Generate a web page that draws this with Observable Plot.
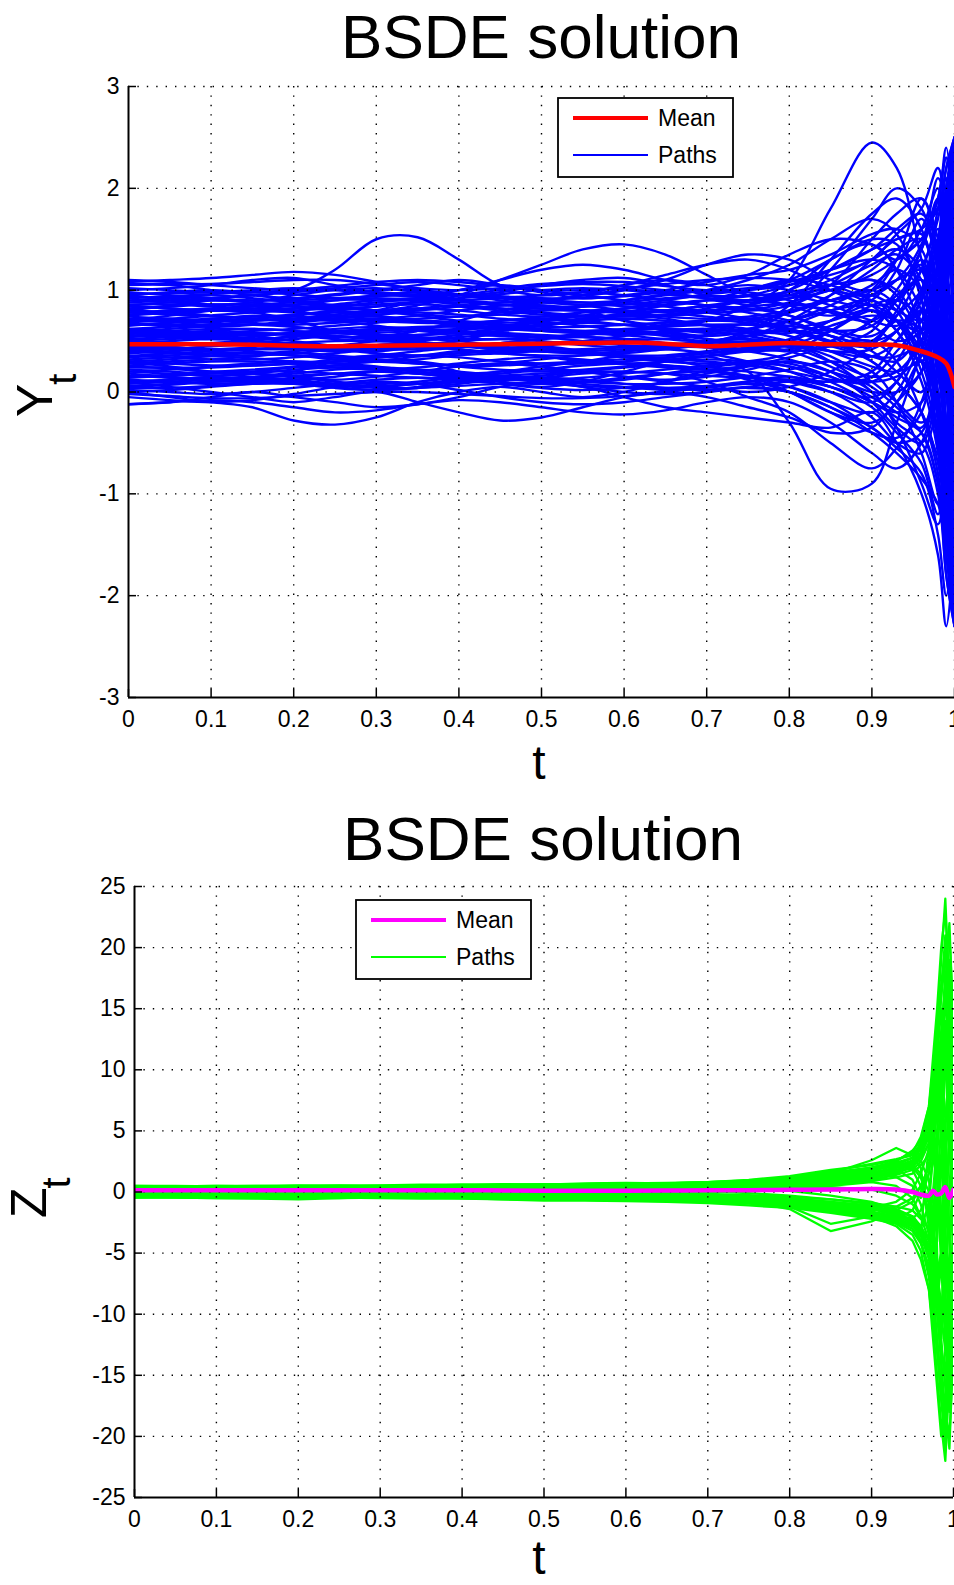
<!DOCTYPE html>
<html><head><meta charset="utf-8">
<script src="https://cdn.jsdelivr.net/npm/d3@7"></script>
<script src="https://cdn.jsdelivr.net/npm/@observablehq/plot@0.6"></script>
<style>
html,body{margin:0;padding:0;background:#fff;}
#wrap{position:relative;width:954px;height:1585px;overflow:hidden;background:#fff;}
#p1{position:absolute;left:0;top:70px;}
#p2{position:absolute;left:0;top:870px;}
#ov{position:absolute;left:0;top:0;pointer-events:none;font-family:"Liberation Sans",Arial,Helvetica,sans-serif;}
</style></head><body>
<div id="wrap"><div id="p1"></div><div id="p2"></div><svg id="ov" width="954" height="1585"></svg></div>
<script>
// ---------- tick values ----------
const X_TICKS = [0, 0.1, 0.2, 0.3, 0.4, 0.5, 0.6, 0.7, 0.8, 0.9, 1];
const Y_TICKS_TOP = [-3, -2, -1, 0, 1, 2, 3];
const Y_TICKS_BOTTOM = [-25, -20, -15, -10, -5, 0, 5, 10, 15, 20, 25];

// ---------- Y_t (top panel) ----------
const T_Y = [0, .05, .1, .15, .2, .25, .3, .35, .4, .45, .5, .55, .6, .65, .7, .75, .8, .85, .9, .93, .96, .98, .99, 1];
const Y_MEAN = [0.47,0.47,0.47,0.465,0.455,0.45,0.455,0.46,0.465,0.47,0.475,0.48,0.485,0.475,0.45,0.465,0.48,0.47,0.465,0.46,0.40,0.34,0.28,0.05];
const Y_PATHS = [
[1.08,1.1,1.12,1.15,1.18,1.15,1.08,1.0,0.95,0.98,1.05,1.1,1.12,1.05,0.95,0.9,1.0,1.2,1.4,1.5,1.6,1.8,2.2,2.5],
[0.95,0.98,1.0,0.98,1.0,1.2,1.5,1.52,1.3,1.05,1.0,0.95,0.9,0.85,0.9,1.0,1.1,1.05,0.9,0.8,0.7,0.9,1.3,1.6],
[0.8,0.85,0.9,0.95,0.9,0.85,0.8,0.85,0.95,1.1,1.25,1.4,1.45,1.35,1.15,0.95,0.85,0.9,1.0,1.1,1.2,1.0,0.6,0.2],
[0.6,0.65,0.7,0.75,0.7,0.6,0.55,0.6,0.7,0.8,0.85,0.8,0.7,0.65,0.7,0.85,1.1,1.8,2.45,2.2,1.3,0.6,0.2,-0.3],
[0.3,0.25,0.2,0.15,0.2,0.3,0.35,0.3,0.2,0.1,0.05,0.1,0.2,0.3,0.35,0.2,-0.3,-0.95,-0.9,-0.3,0.4,0.9,1.2,1.4],
[0.5,0.55,0.6,0.55,0.5,0.45,0.4,0.45,0.5,0.6,0.7,0.75,0.7,0.6,0.55,0.6,0.8,1.2,1.7,2.0,1.8,1.2,0.5,-0.5],
[0.0,-0.05,-0.1,-0.15,-0.28,-0.32,-0.25,-0.1,0.0,0.05,0.0,-0.05,0.0,0.1,0.2,0.15,0.0,-0.2,-0.3,-0.1,0.3,-0.5,-1.2,-2.0],
[0.1,0.05,0.0,-0.05,-0.1,-0.05,0.0,-0.1,-0.2,-0.28,-0.25,-0.15,-0.05,0.0,-0.05,-0.15,-0.25,-0.4,-0.35,-0.1,0.2,0.8,1.5,2.2],
[-0.12,-0.1,-0.05,0.0,-0.05,-0.1,-0.15,-0.12,-0.05,0.05,0.1,0.05,-0.05,-0.15,-0.2,-0.25,-0.3,-0.35,-0.2,-0.5,-1.0,-1.6,-2.3,-1.5],
[1.0,1.02,1.05,1.1,1.12,1.05,0.98,0.95,1.0,1.1,1.2,1.25,1.2,1.1,1.05,1.15,1.35,1.5,1.45,1.3,1.6,2.0,1.5,0.8],
[0.7,0.75,0.8,0.85,0.8,0.75,0.8,0.9,1.0,1.05,1.0,0.95,1.0,1.1,1.25,1.35,1.3,1.1,1.0,1.3,1.9,1.5,0.5,-0.5],
[0.9,0.92,0.95,0.92,0.88,0.85,0.88,0.92,0.95,0.93,0.9,0.88,0.9,0.95,1.0,1.05,1.0,0.9,0.8,0.7,0.6,0.9,1.4,2.0],
[0.85,0.82,0.8,0.82,0.85,0.9,0.95,0.98,0.95,0.9,0.85,0.8,0.78,0.8,0.85,0.9,0.95,1.1,1.3,1.4,1.2,0.4,-0.3,-1.0],
[0.75,0.78,0.8,0.78,0.72,0.7,0.72,0.75,0.8,0.85,0.88,0.85,0.8,0.75,0.78,0.85,0.95,1.0,0.85,0.6,0.3,0.8,1.6,2.3],
[0.65,0.68,0.7,0.72,0.75,0.78,0.75,0.7,0.65,0.62,0.65,0.7,0.78,0.85,0.9,0.85,0.75,0.6,0.5,0.6,0.9,1.4,1.0,0.2],
[0.55,0.58,0.6,0.62,0.6,0.55,0.52,0.55,0.6,0.65,0.68,0.65,0.6,0.55,0.5,0.55,0.65,0.8,0.9,0.7,0.2,-0.5,-1.3,-1.8],
[0.4,0.42,0.45,0.5,0.55,0.58,0.55,0.5,0.45,0.42,0.45,0.5,0.55,0.6,0.62,0.58,0.5,0.4,0.35,0.5,0.9,1.5,2.1,1.2],
[0.3,0.32,0.35,0.33,0.3,0.28,0.3,0.35,0.4,0.38,0.35,0.3,0.28,0.3,0.35,0.4,0.45,0.35,0.1,-0.1,-0.3,-0.1,0.5,1.0],
[0.2,0.22,0.25,0.28,0.3,0.28,0.25,0.2,0.18,0.2,0.25,0.3,0.35,0.32,0.25,0.2,0.15,0.1,0.2,0.5,0.8,0.3,-0.6,-1.6],
[0.1,0.12,0.15,0.18,0.15,0.1,0.08,0.1,0.15,0.2,0.22,0.2,0.15,0.1,0.05,0.0,0.05,0.2,0.45,0.7,0.6,0.0,-0.8,-0.5],
[0.0,0.02,0.05,0.08,0.1,0.08,0.05,0.08,0.12,0.15,0.12,0.08,0.05,0.02,0.05,0.1,0.15,0.05,-0.15,-0.4,-0.7,-1.2,-0.5,0.4],
[0.95,0.9,0.85,0.88,0.95,1.0,1.02,0.98,0.9,0.85,0.88,0.95,1.05,1.1,1.05,0.95,0.85,0.75,0.9,1.2,1.7,1.2,0.3,0.9],
[0.6,0.62,0.65,0.7,0.72,0.7,0.65,0.6,0.58,0.6,0.65,0.72,0.75,0.72,0.65,0.6,0.58,0.7,1.0,1.3,1.5,1.8,1.2,0.0],
[0.45,0.43,0.4,0.38,0.4,0.45,0.5,0.52,0.5,0.45,0.4,0.38,0.4,0.45,0.5,0.55,0.6,0.55,0.4,0.2,0.0,0.6,1.3,1.9],
[0.35,0.38,0.4,0.42,0.45,0.42,0.38,0.35,0.38,0.42,0.45,0.4,0.35,0.32,0.35,0.42,0.5,0.65,0.75,0.7,0.4,-0.2,-0.9,-2.1],
[0.25,0.23,0.2,0.22,0.25,0.3,0.32,0.3,0.25,0.22,0.2,0.22,0.25,0.3,0.32,0.3,0.25,0.15,0.0,0.0,0.2,0.7,1.1,1.7],
[0.15,0.17,0.2,0.18,0.15,0.12,0.15,0.2,0.25,0.28,0.25,0.2,0.15,0.12,0.15,0.22,0.3,0.2,-0.1,-0.35,-0.5,0.1,0.9,0.5],
[0.05,0.07,0.1,0.12,0.1,0.05,0.02,0.05,0.1,0.12,0.1,0.05,0.0,-0.02,0.0,0.05,0.1,0.0,-0.25,-0.5,-0.6,-0.2,-1.0,-1.9],
[0.8,0.78,0.75,0.72,0.7,0.72,0.78,0.82,0.85,0.82,0.78,0.75,0.72,0.75,0.82,0.9,0.95,0.85,0.7,0.65,0.8,1.2,1.9,2.4],
[0.7,0.72,0.75,0.78,0.8,0.82,0.8,0.75,0.7,0.68,0.7,0.75,0.82,0.88,0.85,0.78,0.7,0.55,0.5,0.8,1.3,0.6,-0.4,-1.2],
[0.5,0.48,0.45,0.48,0.52,0.55,0.52,0.48,0.45,0.48,0.52,0.58,0.6,0.58,0.52,0.45,0.4,0.45,0.6,0.9,1.1,0.7,0.0,-0.8],
[1.05,1.05,1.0,0.95,0.92,0.95,1.0,1.05,1.1,1.05,0.98,0.92,0.95,1.0,1.08,1.15,1.2,1.35,1.55,1.6,1.4,0.8,0.3,0.6],
[-0.05,-0.08,-0.1,-0.08,-0.02,0.05,0.1,0.08,0.02,-0.05,-0.1,-0.12,-0.1,-0.05,0.0,0.05,0.0,-0.15,-0.4,-0.6,-0.85,-1.1,-1.5,-0.8],
[0.88,0.9,0.92,0.95,0.98,1.0,0.98,0.95,0.9,0.88,0.9,0.95,1.0,0.98,0.92,0.88,0.92,1.05,1.25,1.35,1.1,0.5,1.2,1.8],
[0.62,0.6,0.58,0.6,0.62,0.65,0.68,0.7,0.68,0.65,0.6,0.58,0.6,0.65,0.7,0.72,0.68,0.55,0.3,0.1,-0.2,-0.6,0.2,1.1],
[0.38,0.4,0.42,0.4,0.36,0.34,0.36,0.4,0.44,0.46,0.44,0.4,0.36,0.34,0.38,0.44,0.52,0.7,0.95,1.1,1.2,1.0,0.2,-1.0],
[0.18,0.15,0.12,0.1,0.12,0.15,0.2,0.22,0.2,0.16,0.12,0.1,0.12,0.18,0.24,0.28,0.25,0.1,-0.1,-0.2,-0.1,0.4,1.4,2.4],
[0.72,0.7,0.68,0.66,0.68,0.72,0.76,0.78,0.76,0.72,0.7,0.72,0.76,0.8,0.78,0.72,0.62,0.5,0.45,0.6,1.0,1.6,0.9,-0.4],
[0.28,0.3,0.32,0.35,0.38,0.36,0.32,0.28,0.26,0.28,0.32,0.36,0.4,0.42,0.38,0.3,0.2,0.05,-0.05,0.1,0.5,-0.3,-1.4,-2.2],
[0.52,0.54,0.56,0.58,0.56,0.52,0.5,0.52,0.56,0.6,0.62,0.6,0.56,0.52,0.5,0.55,0.7,0.95,1.3,1.5,1.55,1.1,2.0,2.5],
[1.1,1.08,1.05,1.02,1.0,1.02,1.05,1.08,1.05,1.0,0.95,0.98,1.05,1.15,1.25,1.3,1.2,1.0,0.85,0.9,1.2,1.8,2.4,1.6],
[-0.12,-0.1,-0.08,-0.1,-0.15,-0.2,-0.18,-0.12,-0.08,-0.1,-0.15,-0.2,-0.22,-0.18,-0.1,-0.05,-0.1,-0.3,-0.6,-0.75,-0.5,0.2,0.6,0.1],
[0.42,0.45,0.48,0.46,0.42,0.4,0.42,0.46,0.5,0.52,0.5,0.46,0.44,0.46,0.5,0.52,0.48,0.3,0.0,-0.3,-0.5,-1.0,-1.8,-2.3],
[0.85,0.88,0.9,0.88,0.84,0.82,0.84,0.88,0.9,0.92,0.95,0.98,0.95,0.9,0.85,0.8,0.85,1.05,1.5,1.75,1.9,1.3,0.4,-0.2],
[0.08,0.1,0.12,0.14,0.16,0.18,0.2,0.18,0.14,0.1,0.08,0.1,0.14,0.18,0.2,0.15,0.05,-0.1,-0.2,0.0,0.5,1.0,1.7,2.1],
[0.58,0.56,0.54,0.52,0.54,0.58,0.62,0.62,0.6,0.56,0.54,0.56,0.6,0.66,0.7,0.68,0.6,0.48,0.35,0.35,0.5,1.0,1.5,0.6],
[0.22,0.2,0.18,0.2,0.24,0.26,0.24,0.2,0.16,0.14,0.16,0.2,0.24,0.26,0.22,0.12,0.0,-0.2,-0.4,-0.45,-0.2,0.5,-0.3,-1.3],
[0.98,0.95,0.92,0.9,0.92,0.96,1.0,1.0,0.96,0.92,0.88,0.86,0.9,0.96,1.0,1.1,1.25,1.5,1.7,1.55,0.9,0.2,-0.6,-1.6],
[0.32,0.34,0.36,0.38,0.36,0.32,0.3,0.32,0.36,0.38,0.4,0.38,0.34,0.3,0.28,0.3,0.38,0.6,0.85,0.9,0.7,0.0,-0.7,0.2],
[0.68,0.66,0.64,0.66,0.7,0.74,0.74,0.7,0.66,0.64,0.66,0.7,0.72,0.7,0.66,0.62,0.55,0.4,0.25,0.2,0.35,1.0,1.8,2.2],
[0.48,0.5,0.52,0.5,0.46,0.44,0.46,0.5,0.54,0.56,0.54,0.5,0.46,0.44,0.48,0.6,0.85,1.3,1.75,1.9,1.6,0.8,0.0,-0.9],
[0.12,0.1,0.08,0.1,0.14,0.18,0.2,0.18,0.14,0.12,0.14,0.18,0.2,0.18,0.1,-0.05,-0.2,-0.5,-0.75,-0.55,-0.1,0.6,1.3,2.0],
[0.78,0.8,0.82,0.84,0.86,0.84,0.8,0.76,0.74,0.76,0.8,0.84,0.86,0.84,0.8,0.85,1.0,1.3,1.45,1.2,0.6,0.0,-0.8,-1.4],
[0.02,0.0,-0.02,0.0,0.04,0.08,0.12,0.14,0.12,0.08,0.04,0.02,0.04,0.1,0.18,0.25,0.3,0.2,0.0,-0.35,-0.9,-1.3,-0.6,0.3],
[0.92,0.94,0.96,0.98,0.96,0.92,0.9,0.9,0.92,0.96,1.0,1.02,1.0,0.96,0.92,0.9,0.92,1.0,1.15,1.3,1.5,1.9,2.3,1.9],
[0.82,0.84,0.86,0.86,0.84,0.8,0.78,0.8,0.84,0.88,0.9,0.88,0.84,0.8,0.78,0.8,0.88,1.0,1.1,0.95,0.5,-0.2,-1.0,-1.7],
[0.74,0.72,0.7,0.7,0.72,0.76,0.8,0.82,0.8,0.76,0.74,0.74,0.76,0.8,0.84,0.82,0.75,0.62,0.55,0.75,1.2,1.7,2.2,2.5],
[0.66,0.68,0.7,0.68,0.64,0.6,0.6,0.62,0.66,0.7,0.72,0.7,0.66,0.62,0.6,0.62,0.7,0.85,1.05,1.2,1.0,0.3,-0.5,-1.1],
[0.56,0.54,0.52,0.54,0.58,0.62,0.64,0.62,0.58,0.55,0.54,0.56,0.6,0.62,0.6,0.55,0.48,0.4,0.42,0.6,0.95,1.4,0.8,0.0],
[0.44,0.46,0.48,0.5,0.48,0.44,0.42,0.42,0.44,0.48,0.52,0.54,0.52,0.48,0.44,0.42,0.46,0.6,0.8,0.7,0.3,-0.4,-1.2,-1.9],
[0.36,0.34,0.32,0.32,0.34,0.38,0.42,0.44,0.42,0.38,0.36,0.36,0.38,0.42,0.46,0.48,0.44,0.3,0.15,0.2,0.5,1.1,1.8,2.3],
[0.26,0.28,0.3,0.3,0.28,0.24,0.22,0.24,0.28,0.32,0.34,0.32,0.28,0.24,0.22,0.26,0.34,0.45,0.5,0.3,-0.2,-0.8,-1.6,-2.2],
[0.16,0.14,0.12,0.14,0.18,0.22,0.24,0.22,0.18,0.14,0.12,0.14,0.18,0.22,0.26,0.3,0.28,0.15,-0.05,-0.2,-0.35,0.3,1.0,1.5],
[0.06,0.08,0.1,0.1,0.08,0.04,0.02,0.04,0.08,0.12,0.14,0.12,0.08,0.04,0.02,0.04,0.0,-0.15,-0.35,-0.55,-0.8,-1.4,-2.0,-1.2],
[1.02,1.0,0.98,0.98,1.0,1.04,1.08,1.1,1.08,1.04,1.0,1.0,1.02,1.06,1.1,1.12,1.1,1.0,0.95,1.1,1.45,2.1,1.8,1.0],
[0.9,0.88,0.86,0.86,0.88,0.9,0.92,0.9,0.86,0.82,0.82,0.84,0.88,0.92,0.94,0.95,1.05,1.2,1.4,1.6,1.75,1.4,0.6,-0.2],
[0.62,0.64,0.66,0.66,0.64,0.6,0.56,0.56,0.58,0.62,0.66,0.68,0.66,0.62,0.58,0.58,0.62,0.7,0.8,0.6,0.1,-0.6,-1.4,-2.0],
[0.5,0.52,0.54,0.56,0.58,0.58,0.56,0.54,0.52,0.52,0.54,0.56,0.58,0.56,0.52,0.48,0.45,0.5,0.7,1.0,1.4,1.9,2.3,1.4],
[0.4,0.38,0.36,0.36,0.38,0.42,0.46,0.48,0.46,0.42,0.4,0.4,0.42,0.44,0.44,0.4,0.32,0.2,0.1,0.15,0.3,-0.2,-1.0,-1.7],
[0.3,0.28,0.26,0.26,0.28,0.32,0.36,0.36,0.34,0.3,0.28,0.28,0.3,0.34,0.38,0.4,0.42,0.5,0.7,0.95,1.1,0.6,-0.3,-0.9],
[0.2,0.18,0.16,0.18,0.22,0.24,0.22,0.18,0.16,0.18,0.22,0.26,0.28,0.26,0.22,0.16,0.1,0.0,-0.1,0.1,0.6,1.3,2.0,2.4],
[0.76,0.78,0.8,0.8,0.78,0.74,0.72,0.72,0.74,0.78,0.8,0.8,0.78,0.74,0.72,0.74,0.8,0.9,0.95,0.8,0.4,0.9,1.5,0.5],
[0.58,0.6,0.62,0.62,0.6,0.58,0.58,0.6,0.62,0.62,0.6,0.58,0.56,0.58,0.62,0.68,0.78,0.95,1.2,1.4,1.5,1.0,0.2,-0.7],
[0.46,0.44,0.42,0.44,0.48,0.5,0.5,0.48,0.46,0.46,0.48,0.5,0.5,0.48,0.46,0.46,0.4,0.25,0.05,-0.15,-0.4,-0.9,-1.6,-2.3],
[0.86,0.86,0.84,0.82,0.82,0.84,0.86,0.88,0.88,0.86,0.84,0.84,0.86,0.9,0.96,1.0,1.05,1.15,1.3,1.55,1.8,2.2,1.6,0.9],
[0.1,0.12,0.14,0.14,0.12,0.08,0.06,0.08,0.1,0.12,0.12,0.1,0.08,0.08,0.1,0.15,0.22,0.3,0.2,-0.1,-0.6,-1.1,-0.4,0.6],
[0.96,0.97,0.98,1.0,1.02,1.0,0.96,0.94,0.96,1.0,1.04,1.06,1.04,1.0,0.98,1.0,1.08,1.2,1.3,1.2,0.8,0.2,-0.5,-1.3],
[0.84,0.82,0.8,0.8,0.82,0.86,0.9,0.92,0.9,0.86,0.82,0.8,0.82,0.86,0.9,0.94,0.98,1.05,1.1,1.0,0.7,1.3,2.0,2.4],
[0.7,0.7,0.72,0.74,0.74,0.72,0.7,0.68,0.68,0.7,0.74,0.78,0.8,0.78,0.74,0.7,0.65,0.6,0.65,0.9,1.25,0.5,-0.5,-1.5],
[0.54,0.56,0.58,0.58,0.56,0.54,0.54,0.56,0.58,0.58,0.56,0.54,0.52,0.52,0.56,0.62,0.7,0.8,0.85,0.7,0.3,0.9,1.7,2.1],
[0.34,0.36,0.38,0.38,0.36,0.34,0.34,0.36,0.38,0.4,0.4,0.38,0.36,0.36,0.4,0.46,0.5,0.45,0.3,0.1,-0.2,-0.7,-1.3,-2.0],
[0.14,0.16,0.18,0.2,0.2,0.18,0.16,0.14,0.14,0.16,0.18,0.2,0.2,0.18,0.16,0.14,0.12,0.1,0.15,0.4,0.7,1.2,1.6,0.8],
[1.06,1.06,1.06,1.08,1.1,1.1,1.06,1.02,1.0,1.02,1.06,1.08,1.08,1.04,1.0,1.02,1.1,1.3,1.5,1.45,1.0,0.4,0.0,-0.8],
[0.78,0.76,0.74,0.74,0.76,0.8,0.84,0.86,0.84,0.8,0.76,0.74,0.74,0.76,0.8,0.84,0.86,0.8,0.65,0.5,0.6,1.2,1.8,1.0],
[0.6,0.58,0.56,0.56,0.58,0.6,0.62,0.64,0.64,0.62,0.6,0.6,0.62,0.64,0.66,0.66,0.62,0.5,0.35,0.3,0.5,-0.1,-0.9,-1.6],
[0.24,0.24,0.24,0.26,0.28,0.3,0.3,0.28,0.26,0.26,0.28,0.3,0.32,0.32,0.3,0.26,0.2,0.12,0.1,0.3,0.8,1.4,2.0,2.5],
[0.04,0.04,0.06,0.08,0.08,0.06,0.04,0.04,0.06,0.08,0.08,0.06,0.04,0.04,0.06,0.1,0.12,0.05,-0.1,-0.25,-0.4,-0.9,-1.8,-2.3],
[0.94,0.92,0.9,0.9,0.9,0.92,0.94,0.96,0.96,0.94,0.92,0.92,0.94,0.98,1.0,0.98,0.9,0.78,0.7,0.9,1.4,1.9,1.3,0.4],
[0.66,0.66,0.66,0.66,0.66,0.68,0.7,0.7,0.68,0.66,0.64,0.64,0.66,0.68,0.7,0.72,0.78,0.9,1.0,0.85,0.45,-0.2,-1.1,-0.6],
[0.42,0.42,0.42,0.42,0.42,0.42,0.44,0.46,0.46,0.44,0.42,0.42,0.44,0.46,0.48,0.5,0.5,0.45,0.5,0.75,1.0,1.5,0.7,-0.4],
[-0.02,-0.04,-0.06,-0.06,-0.04,-0.02,0.0,0.0,-0.02,-0.04,-0.06,-0.06,-0.04,0.0,0.04,0.08,0.05,-0.1,-0.35,-0.5,-0.4,0.3,1.2,1.9]
];

// ---------- Z_t (bottom panel) ----------
const T_Z = [0, .05, .1, .15, .2, .25, .3, .35, .4, .45, .5, .55, .6, .65, .7, .75, .8, .85, .9, .93, .95, .96, .97, .975, .98, .985, .99, .995, 1];
const Z_MEAN = [0.15,0.15,0.15,0.15,0.15,0.15,0.15,0.15,0.15,0.12,0.1,0.1,0.1,0.12,0.15,0.15,0.18,0.2,0.25,0.2,0.0,-0.2,-0.3,0.1,-0.2,-0.1,0.4,-0.5,0.2];
const Z_PATHS = [
[0.5,0.5,0.45,0.4,0.45,0.5,0.55,0.6,0.6,0.55,0.6,0.7,0.75,0.7,0.8,1.0,1.3,1.8,2.2,2.6,3.2,4.5,7,10,14,19,24,16,11],
[-0.4,-0.45,-0.5,-0.55,-0.6,-0.5,-0.4,-0.45,-0.5,-0.6,-0.7,-0.7,-0.75,-0.8,-0.9,-1.1,-1.3,-1.7,-2.2,-2.6,-3.5,-4.8,-8,-11,-15,-19,-22,-15,-10],
[0.3,0.3,0.35,0.4,0.35,0.3,0.35,0.4,0.45,0.4,0.45,0.5,0.6,0.55,0.6,0.8,1.0,1.5,2.6,3.6,3.0,2.0,-3,-6,5,12,18,8,2],
[-0.2,-0.25,-0.3,-0.35,-0.3,-0.25,-0.3,-0.35,-0.4,-0.45,-0.4,-0.5,-0.6,-0.5,-0.6,-0.8,-1.4,-3.2,-2.4,-1.5,-2.0,-3.5,4,8,-5,-14,-20,-12,-6],
[0.2,0.25,0.2,0.15,0.2,0.25,0.2,0.15,0.2,0.3,0.35,0.3,0.25,0.35,0.45,0.5,0.6,0.9,1.4,2.0,2.5,3.5,6,9,12,16,21,14,9],
[0.0,0.05,0.1,0.05,0.0,-0.05,0.0,0.1,0.15,0.1,0.05,0.0,0.1,0.2,0.3,0.2,0.1,-0.3,-0.8,-1.5,-2.5,-4,-7,-10,-13,-17,-21,-13,-8],
[0.4,0.35,0.3,0.35,0.4,0.45,0.4,0.35,0.4,0.5,0.55,0.5,0.45,0.5,0.6,0.7,0.9,1.2,1.7,2.3,2.8,2.5,1.0,-2,-6,-10,-4,5,10],
[-0.3,-0.35,-0.4,-0.3,-0.25,-0.3,-0.35,-0.3,-0.25,-0.3,-0.4,-0.5,-0.45,-0.4,-0.5,-0.6,-0.8,-1.1,-1.6,-2.2,-2.8,-3,-1,3,7,11,6,-4,-9],
[0.1,0.15,0.2,0.25,0.2,0.15,0.2,0.25,0.3,0.25,0.2,0.25,0.35,0.4,0.35,0.3,0.45,0.7,1.0,1.4,1.8,2.5,4,6,9,13,17,22,13],
[-0.1,-0.15,-0.2,-0.15,-0.1,-0.15,-0.2,-0.25,-0.2,-0.15,-0.2,-0.3,-0.35,-0.3,-0.25,-0.35,-0.5,-0.8,-1.2,-1.8,-2.4,-3.2,-5,-7,-10,-14,-18,-21,-12],
[0.45,0.4,0.45,0.5,0.55,0.5,0.45,0.5,0.6,0.65,0.6,0.55,0.6,0.7,0.8,0.9,1.1,1.5,2.0,2.4,1.8,0.5,-2,-4,-8,-5,2,8,12],
[-0.35,-0.3,-0.35,-0.4,-0.45,-0.4,-0.35,-0.4,-0.5,-0.55,-0.5,-0.45,-0.55,-0.65,-0.7,-0.8,-1.0,-1.4,-1.8,-2.3,-1.5,0.0,2.5,5,9,6,-3,-9,-11],
[0.25,0.2,0.15,0.2,0.25,0.3,0.25,0.2,0.25,0.3,0.35,0.4,0.35,0.3,0.4,0.55,0.75,1.1,1.6,1.2,0.5,-1,-3.5,-6,-4,3,10,15,7],
[-0.15,-0.1,-0.05,-0.1,-0.15,-0.2,-0.15,-0.1,-0.15,-0.2,-0.25,-0.2,-0.15,-0.25,-0.35,-0.45,-0.6,-0.9,-1.3,-0.8,0.2,1.5,3.5,5.5,3,-4,-11,-17,-8],
[0.35,0.4,0.35,0.3,0.3,0.35,0.4,0.45,0.4,0.35,0.4,0.45,0.5,0.45,0.5,0.65,0.85,1.3,1.8,2.1,2.6,3.8,5.5,8,11,15,12,5,-2],
[-0.25,-0.2,-0.25,-0.3,-0.35,-0.3,-0.25,-0.2,-0.3,-0.35,-0.3,-0.35,-0.4,-0.45,-0.55,-0.7,-0.9,-1.3,-2.0,-2.5,-3.2,-4.2,-6,-8.5,-12,-16,-13,-6,2],
[0.15,0.1,0.15,0.2,0.15,0.1,0.15,0.2,0.25,0.2,0.15,0.2,0.25,0.2,0.25,0.35,0.5,0.6,0.9,1.5,2.2,3.0,4.5,3,1,-2,-6,-10,-5],
[-0.05,0.0,-0.05,-0.1,-0.05,0.0,-0.05,-0.1,-0.05,0.0,-0.05,-0.1,-0.05,0.0,0.05,-0.1,-0.3,-0.6,-1.0,-1.4,-2.0,-2.8,-4.5,-3,-1,2,6,10,4],
[0.5,0.45,0.4,0.45,0.5,0.55,0.5,0.45,0.5,0.55,0.6,0.65,0.7,0.65,0.7,0.85,1.2,1.7,2.3,2.7,3.0,4.0,6.5,9.5,13,17,20,13,6],
[-0.45,-0.4,-0.35,-0.4,-0.45,-0.5,-0.45,-0.4,-0.45,-0.5,-0.55,-0.6,-0.65,-0.6,-0.7,-0.9,-1.2,-1.6,-2.1,-2.4,-3.0,-4.0,-6.5,-9.5,-13,-17,-19,-14,-7],
[0.05,0.1,0.05,0.0,0.05,0.1,0.05,0.0,0.05,0.1,0.15,0.1,0.05,0.1,0.15,0.2,0.3,0.5,0.8,0.5,-0.5,-2,-4,-2,3,8,14,9,3],
[0.3,0.25,0.3,0.35,0.3,0.25,0.3,0.35,0.35,0.3,0.35,0.4,0.45,0.5,0.55,0.6,0.8,1.0,1.2,1.6,2.0,1.2,-1,-3,-7,-12,-8,0,7],
[-0.2,-0.25,-0.2,-0.15,-0.2,-0.25,-0.2,-0.15,-0.2,-0.25,-0.3,-0.25,-0.3,-0.35,-0.4,-0.5,-0.7,-1.0,-1.5,-1.2,-0.5,0.5,2,4,7,10,16,11,4],
[0.2,0.2,0.25,0.3,0.25,0.2,0.25,0.3,0.35,0.4,0.45,0.4,0.35,0.4,0.5,0.6,0.7,0.9,1.3,1.8,2.4,3.2,5,7,10,8,3,-3,-8],
[-0.3,-0.3,-0.25,-0.2,-0.25,-0.3,-0.35,-0.4,-0.35,-0.3,-0.35,-0.4,-0.45,-0.5,-0.45,-0.55,-0.75,-1.1,-1.4,-1.9,-2.6,-3.4,-5,-7,-9,-6,-1,4,9],
[0.0,-0.05,-0.1,-0.05,0.0,0.05,0.0,-0.05,-0.1,-0.05,0.0,-0.05,-0.15,-0.2,-0.3,-0.5,-1.2,-2.6,-2.0,-2.8,-4.0,-5.5,-8,-12,-16,-20,-17,-9,-3],
[0.4,0.45,0.5,0.45,0.4,0.35,0.4,0.45,0.5,0.55,0.5,0.45,0.5,0.55,0.65,0.75,0.95,1.4,2.0,2.5,3.4,4.2,7,11,15,20,23,17,10],
[-0.1,-0.05,0.0,0.05,0.0,-0.05,-0.1,-0.05,0.0,0.05,0.0,-0.05,-0.1,-0.05,0.0,0.1,0.2,0.4,0.2,-0.3,-1.0,-2.0,-3,0,4,-2,-9,-14,-10],
[0.15,0.2,0.15,0.1,0.15,0.2,0.25,0.2,0.15,0.2,0.25,0.3,0.35,0.3,0.35,0.45,0.65,1.0,1.5,1.9,1.0,-0.5,1.5,4,2,-3,5,11,6],
[-0.4,-0.35,-0.3,-0.35,-0.4,-0.35,-0.3,-0.35,-0.4,-0.45,-0.5,-0.55,-0.6,-0.55,-0.65,-0.8,-1.1,-1.5,-1.9,-1.5,-0.8,0.5,-1.5,-4,-2,3,-5,-12,-7],
[0.25,0.3,0.3,0.25,0.2,0.25,0.3,0.3,0.35,0.35,0.4,0.45,0.5,0.5,0.55,0.7,0.9,1.2,1.8,2.2,2.8,3.8,5.5,7.5,10,13,16,11,6],
[-0.25,-0.3,-0.3,-0.25,-0.2,-0.25,-0.3,-0.3,-0.35,-0.35,-0.4,-0.45,-0.5,-0.5,-0.55,-0.7,-0.9,-1.2,-1.7,-2.1,-2.7,-3.6,-5.5,-7.5,-10,-13,-15,-10,-5],
[0.1,0.1,0.15,0.15,0.1,0.05,0.1,0.15,0.2,0.2,0.15,0.15,0.2,0.25,0.3,0.4,0.55,0.8,1.1,1.6,2.0,2.8,4,5.5,7,9,11,8,4],
[-0.1,-0.1,-0.15,-0.15,-0.1,-0.05,-0.1,-0.15,-0.2,-0.2,-0.15,-0.15,-0.2,-0.25,-0.3,-0.4,-0.55,-0.8,-1.1,-1.6,-2.0,-2.8,-4,-5.5,-7,-9,-11,-8,-4],
[0.45,0.45,0.5,0.5,0.45,0.45,0.5,0.55,0.55,0.6,0.65,0.65,0.7,0.75,0.8,0.95,1.2,1.6,2.0,2.4,2.8,3.5,5,8,12,16,19,21,14],
[-0.45,-0.45,-0.5,-0.5,-0.45,-0.45,-0.5,-0.55,-0.55,-0.6,-0.65,-0.65,-0.7,-0.75,-0.8,-0.95,-1.2,-1.6,-2.0,-2.4,-2.8,-3.5,-5,-8,-12,-16,-18,-20,-13],
[0.3,0.35,0.4,0.35,0.3,0.35,0.4,0.4,0.45,0.5,0.5,0.55,0.6,0.65,0.7,0.8,1.0,1.3,1.6,2.0,2.2,1.5,0.0,-3,-1,6,12,4,-4],
[-0.3,-0.35,-0.4,-0.35,-0.3,-0.35,-0.4,-0.4,-0.45,-0.5,-0.5,-0.55,-0.6,-0.65,-0.7,-0.8,-1.0,-1.3,-1.6,-2.0,-2.2,-1.5,0.0,3,1,-6,-12,-5,3],
[0.05,0.0,0.05,0.1,0.05,0.0,0.05,0.1,0.05,0.0,0.05,0.1,0.15,0.1,0.15,0.25,0.4,0.6,0.9,1.2,1.5,2.2,3,4.5,6.5,5,1,-4,-9],
[-0.05,0.0,-0.05,-0.1,-0.05,0.0,-0.05,-0.1,-0.05,0.0,-0.05,-0.1,-0.15,-0.1,-0.15,-0.25,-0.4,-0.6,-0.9,-1.2,-1.5,-2.2,-3,-4.5,-6.5,-5,-1,4,9],
[0.35,0.3,0.3,0.35,0.4,0.4,0.35,0.35,0.4,0.45,0.45,0.5,0.55,0.6,0.6,0.75,1.0,1.4,1.9,2.3,2.0,3.0,5,6,9,12,17,19,12],
[-0.35,-0.3,-0.3,-0.35,-0.4,-0.4,-0.35,-0.35,-0.4,-0.45,-0.45,-0.5,-0.55,-0.6,-0.6,-0.75,-1.0,-1.4,-1.9,-2.3,-2.0,-3.0,-5,-6,-9,-12,-16,-18,-11],
[0.2,0.15,0.1,0.15,0.2,0.2,0.15,0.1,0.15,0.2,0.25,0.25,0.3,0.35,0.35,0.45,0.6,0.9,1.3,1.7,2.3,3.2,4.5,6,8,10,13,9,5],
[-0.2,-0.15,-0.1,-0.15,-0.2,-0.2,-0.15,-0.1,-0.15,-0.2,-0.25,-0.25,-0.3,-0.35,-0.35,-0.45,-0.6,-0.9,-1.3,-1.7,-2.3,-3.2,-4.5,-6,-8,-10,-13,-9,-5]
];

// ---------- helpers ----------
function toRows(T, paths) {
  const rows = [];
  paths.forEach((p, i) => {
    const n = Math.min(p.length, T.length);
    for (let j = 0; j < n; j++) rows.push({t: T[j], v: p[j], id: i});
  });
  return rows;
}
function meanRows(T, m) { return T.map((t, i) => ({t, v: m[i]})); }

const FONT = '"Liberation Sans", Arial, Helvetica, sans-serif';

function panel({T, paths, mean, pathColor, meanColor, yDomain, yTicks, marginLeft, marginRight, pathWidth, pathCurve}) {
  const marginTop = 16, plotH = 611, marginBottom = 44;
  const height = marginTop + plotH + marginBottom;
  const plotW = 954 - marginLeft - marginRight;
  const y0 = yDomain[0];
  const yLen = (yDomain[1] - yDomain[0]) * 8 / plotH;   // 8px tick in data units
  const xLen = 8 / plotW;
  const dots = {stroke: "black", strokeWidth: 1.4, strokeDasharray: "1.4,8"};
  return Plot.plot({
    width: 954, height, marginTop, marginBottom, marginLeft, marginRight,
    style: {fontFamily: FONT, fontSize: "23px", background: "white", color: "black", overflow: "visible"},
    x: {domain: [0, 1], ticks: X_TICKS, tickSize: 0, tickPadding: 13, tickFormat: d => String(d), label: null},
    y: {domain: yDomain, ticks: yTicks, tickSize: 0, tickPadding: 9, tickFormat: d => String(d), label: null},
    marks: [
      Plot.line(toRows(T, paths), {x: "t", y: "v", z: "id", stroke: pathColor, strokeWidth: pathWidth, curve: pathCurve, clip: true}),
      Plot.ruleX(X_TICKS.slice(1), {x: d => d, ...dots}),
      Plot.ruleY(yTicks.slice(1), {y: d => d, ...dots}),
      Plot.line(meanRows(T, mean), {x: "t", y: "v", stroke: meanColor, strokeWidth: 4.5, curve: "catmull-rom", clip: true}),
      Plot.ruleX(X_TICKS, {x: d => d, y1: y0, y2: y0 + yLen, stroke: "black", strokeWidth: 1.5}),
      Plot.ruleY(yTicks, {y: d => d, x1: 0, x2: xLen, stroke: "black", strokeWidth: 1.5}),
      Plot.ruleY([y0], {stroke: "black", strokeWidth: 2}),
      Plot.ruleX([0], {stroke: "black", strokeWidth: 2})
    ]
  });
}

document.getElementById("p1").appendChild(panel({
  T: T_Y, paths: Y_PATHS, mean: Y_MEAN, pathColor: "#0000ff", meanColor: "#ff0000",
  yDomain: [-3, 3], yTicks: Y_TICKS_TOP, marginLeft: 128, marginRight: 0,
  pathWidth: 2.4, pathCurve: "catmull-rom"
}));
document.getElementById("p2").appendChild(panel({
  T: T_Z, paths: Z_PATHS, mean: Z_MEAN, pathColor: "#00ff00", meanColor: "#ff00ff",
  yDomain: [-25, 25], yTicks: Y_TICKS_BOTTOM, marginLeft: 134, marginRight: 1,
  pathWidth: 2.3, pathCurve: "linear"
}));

// ---------- overlay: titles, axis labels, legends ----------
const ov = d3.select("#ov");
function title(x, y, s) {
  ov.append("text").attr("x", x).attr("y", y).attr("text-anchor", "middle")
    .attr("font-size", 62).attr("fill", "black").text(s);
}
title(541, 58, "BSDE solution");
title(543, 860, "BSDE solution");

function ylab(x, y, main) {
  const t = ov.append("text").attr("transform", `translate(${x},${y}) rotate(-90)`)
    .attr("font-size", 50).attr("fill", "black");
  t.append("tspan").text(main);
  t.append("tspan").attr("font-size", 40).attr("dy", 24).attr("dx", -1).text("t");
}
ylab(52, 417, "Y");
ylab(46, 1218, "Z");

function xlab(x, y) {
  ov.append("text").attr("x", x).attr("y", y).attr("text-anchor", "middle")
    .attr("font-size", 48).attr("fill", "black").text("t");
}
xlab(539, 779);
xlab(539, 1574);

function legend(x, y, meanColor, pathColor) {
  const g = ov.append("g").attr("transform", `translate(${x},${y})`);
  g.append("rect").attr("width", 175).attr("height", 79).attr("fill", "white").attr("stroke", "black").attr("stroke-width", 1.8);
  g.append("line").attr("x1", 15).attr("x2", 90).attr("y1", 20).attr("y2", 20).attr("stroke", meanColor).attr("stroke-width", 4);
  g.append("line").attr("x1", 15).attr("x2", 90).attr("y1", 57).attr("y2", 57).attr("stroke", pathColor).attr("stroke-width", 2);
  g.append("text").attr("x", 100).attr("y", 28).attr("font-size", 23).attr("fill", "black").text("Mean");
  g.append("text").attr("x", 100).attr("y", 65).attr("font-size", 23).attr("fill", "black").text("Paths");
}
legend(558, 98, "#ff0000", "#0000ff");
legend(356, 900, "#ff00ff", "#00ff00");
</script>
</body></html>
